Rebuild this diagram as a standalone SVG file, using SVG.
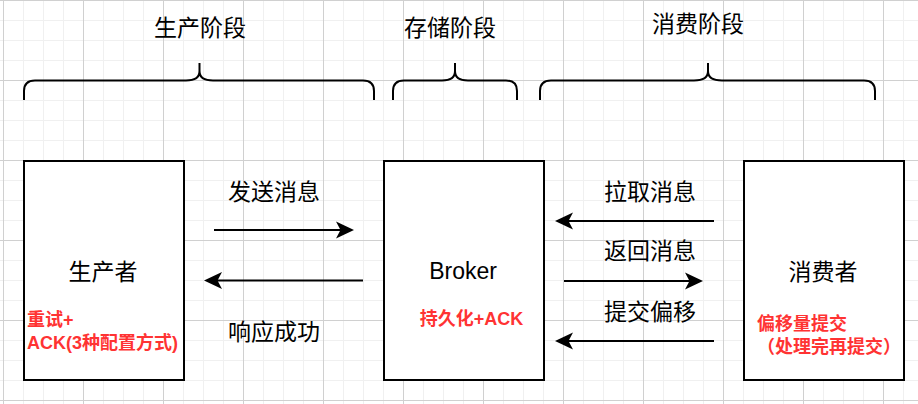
<svg xmlns="http://www.w3.org/2000/svg" width="918" height="404" viewBox="0 0 918 404">
  <style>
    .t { font-family: "Liberation Sans", "Noto Sans CJK SC", sans-serif; font-size: 23px; fill: #000; }
    .r { font-family: "Liberation Sans", "Noto Sans CJK SC", sans-serif; font-size: 18px; font-weight: bold; fill: #FF3333; }
    .box { fill: #fff; stroke: #000; stroke-width: 2; }
    .brace { fill: none; stroke: #000; stroke-width: 2; }
    .edge { fill: none; stroke: #000; stroke-width: 2; marker-end: url(#arrow); }
  </style>
  <defs>
    <pattern id="grid" x="3" y="0" width="80" height="80" patternUnits="userSpaceOnUse">
      <path d="M20.5,0 V80 M40.5,0 V80 M60.5,0 V80 M0,20.5 H80 M0,40.5 H80 M0,60.5 H80" stroke="#f0f0f0" stroke-width="1" fill="none"/>
      <path d="M0.5,0 V80 M0,0.5 H80" stroke="#d0d0d0" stroke-width="1" fill="none"/>
    </pattern>
    <marker id="arrow" markerUnits="userSpaceOnUse" markerWidth="20" markerHeight="20" refX="14" refY="9" orient="auto">
      <path d="M0,0.5 L18,9 L0,17.5 L4.5,9 Z" fill="#000"/>
    </marker>
  </defs>
  <rect width="918" height="404" fill="#fff"/>
  <rect width="918" height="404" fill="url(#grid)"/>

  <g id="phase-produce">
    <path class="brace" d="M24,100 V91 Q24,80.5 35,80.5 H186 Q199.5,80.5 199.5,71 V63 M199.5,71 Q199.5,80.5 213,80.5 H363 Q374,80.5 374,91 V100"/>
    <text class="t" x="200" y="36" text-anchor="middle">生产阶段</text>
  </g>
  <g id="phase-store">
    <path class="brace" d="M393,100 V91 Q393,80.5 404,80.5 H442 Q455,80.5 455,71 V63 M455,71 Q455,80.5 468,80.5 H506 Q517,80.5 517,91 V100"/>
    <text class="t" x="450" y="35.5" text-anchor="middle">存储阶段</text>
  </g>
  <g id="phase-consume">
    <path class="brace" d="M540,100 V91 Q540,80.5 551,80.5 H694 Q708,80.5 708,71 V63 M708,71 Q708,80.5 722,80.5 H864 Q875,80.5 875,91 V100"/>
    <text class="t" x="698" y="32" text-anchor="middle">消费阶段</text>
  </g>

  <g id="producer">
    <rect class="box" x="24" y="161" width="160" height="219"/>
    <text class="t" x="103" y="280" text-anchor="middle">生产者</text>
    <text class="r" x="27" y="326">重试+</text>
    <text class="r" x="27" y="349">ACK(3种配置方式)</text>
  </g>
  <g id="broker">
    <rect class="box" x="384" y="161" width="160" height="219"/>
    <text class="t" x="463" y="279" text-anchor="middle">Broker</text>
    <text class="r" x="471.5" y="325" text-anchor="middle">持久化+ACK</text>
  </g>
  <g id="consumer">
    <rect class="box" x="744" y="161" width="160" height="219"/>
    <text class="t" x="823" y="280" text-anchor="middle">消费者</text>
    <text class="r" x="757" y="330">偏移量提交</text>
    <text class="r" x="757" y="353">（处理完再提交）</text>
  </g>

  <g id="connectors">
    <path class="edge" d="M214,230 H350"/>
    <path class="edge" d="M363,280.5 H208"/>
    <path class="edge" d="M714,221 H559"/>
    <path class="edge" d="M564,281 H699"/>
    <path class="edge" d="M714,341 H559"/>
    <text class="t" x="274" y="200" text-anchor="middle">发送消息</text>
    <text class="t" x="274" y="340" text-anchor="middle">响应成功</text>
    <text class="t" x="650" y="200" text-anchor="middle">拉取消息</text>
    <text class="t" x="650" y="259" text-anchor="middle">返回消息</text>
    <text class="t" x="650" y="320" text-anchor="middle">提交偏移</text>
  </g>
</svg>
